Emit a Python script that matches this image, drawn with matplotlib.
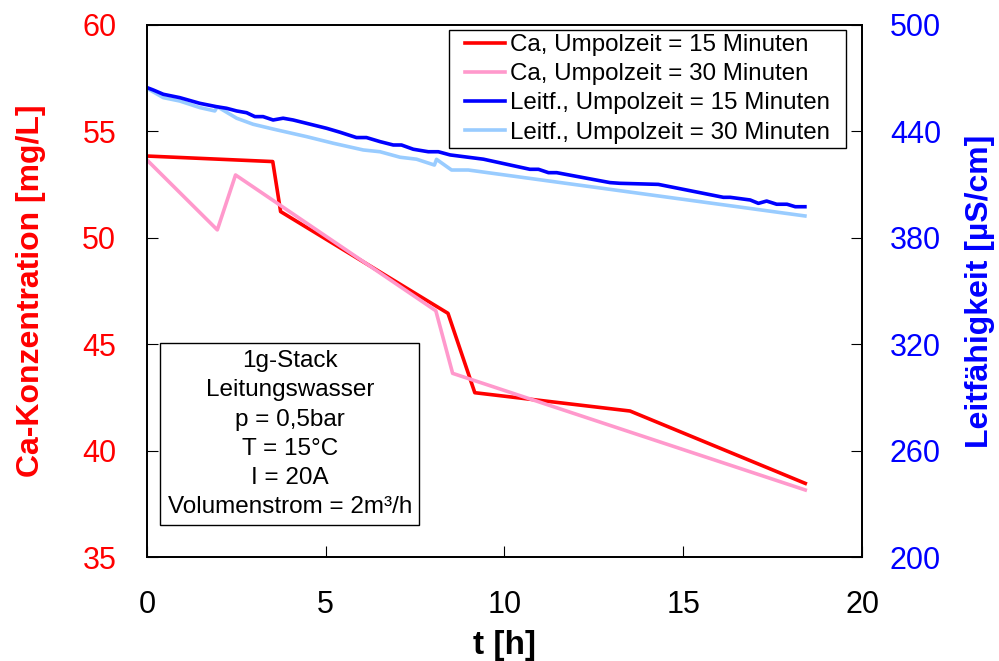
import matplotlib
matplotlib.use("Agg")
import matplotlib.pyplot as plt
from matplotlib.patches import Rectangle

plt.rcParams['font.family'] = ['Liberation Sans', 'DejaVu Sans']

# Ca concentration [mg/L]
t_ca15 = [0, 3.52, 3.74, 8.42, 9.17, 13.51, 18.41]
ca15 = [53.84, 53.58, 51.23, 46.45, 42.72, 41.86, 38.46]
t_ca30 = [0, 1.97, 2.48, 8.08, 8.55, 18.41]
ca30 = [53.66, 50.37, 52.95, 46.57, 43.63, 38.15]

# Conductivity [µS/cm]
t_lf15 = [0, 0.18, 0.46, 0.92, 1.48, 1.95, 2.23, 2.51, 2.79, 3.02, 3.25, 3.53, 3.81,
          4.09, 4.65, 5.03, 5.4, 5.86, 6.14, 6.52, 6.89, 7.12, 7.45, 7.87, 8.15, 8.48,
          9.41, 10.71, 10.95, 11.23, 11.46, 12.95, 13.23, 14.3, 16.12, 16.31, 16.87,
          17.1, 17.33, 17.61, 17.9, 18.13, 18.4]
lf15 = [464.7, 463.3, 460.9, 459.0, 455.8, 453.9, 453.0, 451.5, 450.5, 448.3, 448.3,
        446.4, 447.4, 446.4, 443.6, 441.7, 439.5, 436.5, 436.5, 434.2, 432.3, 432.3,
        429.9, 428.5, 428.5, 426.7, 424.3, 418.6, 418.6, 416.7, 416.7, 411.1, 410.7,
        410.1, 402.8, 402.8, 401.3, 399.4, 400.7, 398.9, 398.9, 397.5, 397.5]
t_lf30 = [0, 0.46, 0.92, 1.48, 1.9, 1.97, 2.51, 2.97, 3.53, 4.47, 5.21, 6.05, 6.52,
          7.08, 7.54, 8.04, 8.1, 8.52, 8.99, 18.4]
lf30 = [464.3, 459.0, 457.1, 453.4, 451.5, 453.9, 447.4, 444.0, 441.3, 437.0, 433.3,
        429.5, 428.5, 425.4, 424.3, 421.0, 424.2, 418.2, 418.2, 392.3]

labels = ["Ca, Umpolzeit = 15 Minuten", "Ca, Umpolzeit = 30 Minuten",
          "Leitf., Umpolzeit = 15 Minuten", "Leitf., Umpolzeit = 30 Minuten"]
x_ticks = [0, 5, 10, 15, 20]
left_ticks = [35, 40, 45, 50, 55, 60]
right_ticks = [200, 260, 320, 380, 440, 500]

info_text = "1g-Stack\nLeitungswasser\np = 0,5bar\nT = 15°C\nI = 20A\nVolumenstrom = 2m³/h"

fig = plt.figure(figsize=(9.99, 6.61), dpi=100)
ax = fig.add_axes([0.147, 0.1573, 0.716, 0.805])
ax2 = ax.twinx()

lw = 2.6
l1, = ax.plot(t_ca15, ca15, color='#FF0000', lw=lw, label=labels[0])
l2, = ax.plot(t_ca30, ca30, color='#FF99CC', lw=lw, label=labels[1])
l3, = ax2.plot(t_lf15, lf15, color='#0000FF', lw=lw, label=labels[2])
l4, = ax2.plot(t_lf30, lf30, color='#99CCFF', lw=lw, label=labels[3])
l4.set_zorder(1); l3.set_zorder(2)

ax.set_xlim(0, 20)
ax.set_ylim(35, 60)
ax2.set_ylim(200, 500)
ax.set_xticks(x_ticks)
ax.set_yticks(left_ticks)
ax2.set_yticks(right_ticks)

ax.tick_params(axis='x', direction='in', length=8, labelsize=22, pad=24, colors='black')
ax.tick_params(axis='y', direction='in', length=8, labelsize=22, pad=22, labelcolor='#FF0000')
ax2.tick_params(axis='y', direction='in', length=8, labelsize=22, pad=20, labelcolor='#0000FF')

for a in (ax, ax2):
    for s in a.spines.values():
        s.set_linewidth(1.3)
        s.set_color('black')

ax.set_xlabel("t [h]", fontsize=24, fontweight='bold', labelpad=7)
ax.set_ylabel("Ca-Konzentration [mg/L]", fontsize=23, fontweight='bold', color='#FF0000', labelpad=26)
ax2.set_ylabel("Leitfähigkeit [µS/cm]", fontsize=23, fontweight='bold', color='#0000FF', labelpad=17)

leg = ax2.legend(handles=[l1, l2, l3, l4], loc='upper right', bbox_to_anchor=(0.955, 0.983),
                 fontsize=17.4, frameon=False, borderpad=0.0,
                 labelspacing=0.3, handlelength=1.65, handletextpad=0.2, borderaxespad=0.0)

ax2.text(0.2, 0.231, info_text, transform=ax.transAxes, ha='center', va='center',
         fontsize=17.5, linespacing=1.42,
         bbox=dict(boxstyle='square,pad=0.3', facecolor='white', edgecolor='black', linewidth=1.0))

# legend frame with wider horizontal padding
fig.canvas.draw()
bb = leg.get_window_extent()
inv = fig.transFigure.inverted()
(x0, y0) = inv.transform((bb.x0 - 16, bb.y0 - 4))
(x1, y1) = inv.transform((bb.x1 + 16, bb.y1 + 4))
frame = Rectangle((x0, y0), x1 - x0, y1 - y0, transform=fig.transFigure,
                  facecolor='white', edgecolor='black', linewidth=1.0, zorder=2.5)
ax2.add_artist(frame)
frame.set_transform(fig.transFigure)
leg.set_zorder(3)

fig.savefig("out.png", dpi=100)
